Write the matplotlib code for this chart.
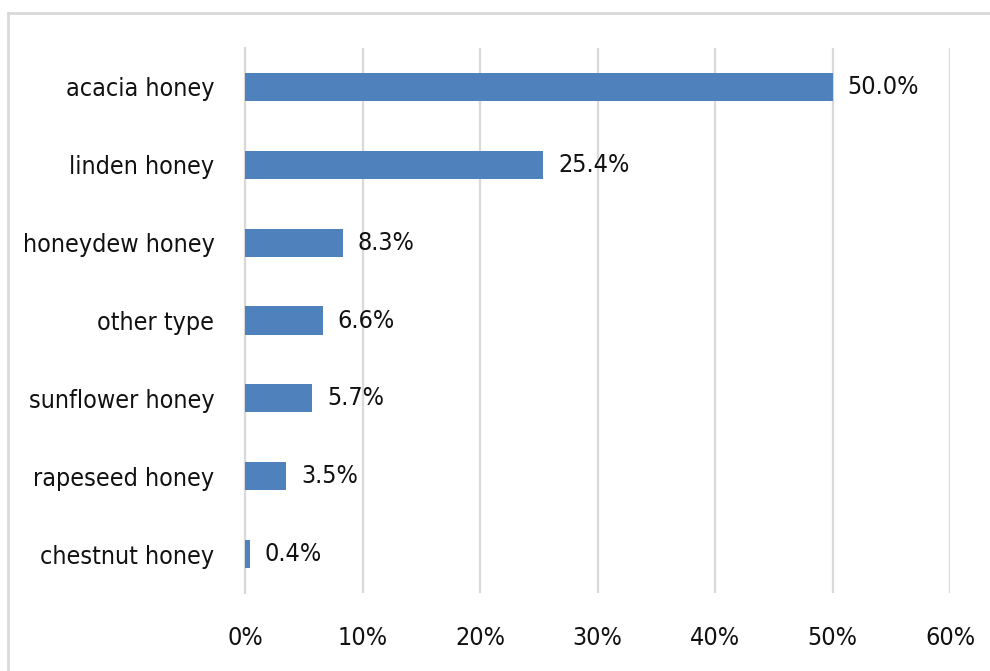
import matplotlib.pyplot as plt
from matplotlib.lines import Line2D
from matplotlib.ticker import FuncFormatter

categories = ["acacia honey", "linden honey", "honeydew honey", "other type",
              "sunflower honey", "rapeseed honey", "chestnut honey"]
shares = [50.0, 25.4, 8.3, 6.6, 5.7, 3.5, 0.4]
xticks = [0, 10, 20, 30, 40, 50, 60]

plt.rcParams["font.family"] = ["DejaVu Sans"]
plt.rcParams["font.stretch"] = "condensed"

fig = plt.figure(figsize=(9.9, 6.71), dpi=100)
ax = fig.add_axes([0.2475, 0.1162, 0.7121, 0.8123])

ypos = list(range(len(categories)))
ax.barh(ypos, shares, height=0.36, color="#4F81BD", zorder=3)
for y, v in zip(ypos, shares):
    ax.text(v + 1.3, y, f"{v:.1f}%", va="center", ha="left", fontsize=18, color="#111111")

ax.set_xlim(0, 60)
ax.set_ylim(len(categories) - 0.5, -0.5)
ax.set_xticks(xticks)
ax.xaxis.set_major_formatter(FuncFormatter(lambda v, _: f"{v:.0f}%"))
ax.set_yticks(ypos)
ax.set_yticklabels(categories)
ax.tick_params(axis="both", length=0, labelsize=18, colors="#111111")
ax.tick_params(axis="x", pad=24)
ax.tick_params(axis="y", pad=22)
ax.grid(axis="x", color="#D9D9D9", linewidth=1.6, zorder=0)
for side in ["top", "right", "bottom"]:
    ax.spines[side].set_visible(False)
ax.spines["left"].set_color("#D9D9D9")
ax.spines["left"].set_linewidth(1.6)

# outer frame of the chart area
fig.add_artist(Line2D([8 / 990, 1.0], [1 - 13 / 671, 1 - 13 / 671],
                      transform=fig.transFigure, color="#D9D9D9", linewidth=2))
fig.add_artist(Line2D([8 / 990, 8 / 990], [1 - 13 / 671, 0.0],
                      transform=fig.transFigure, color="#D9D9D9", linewidth=2))

fig.savefig("out.png", dpi=100)
